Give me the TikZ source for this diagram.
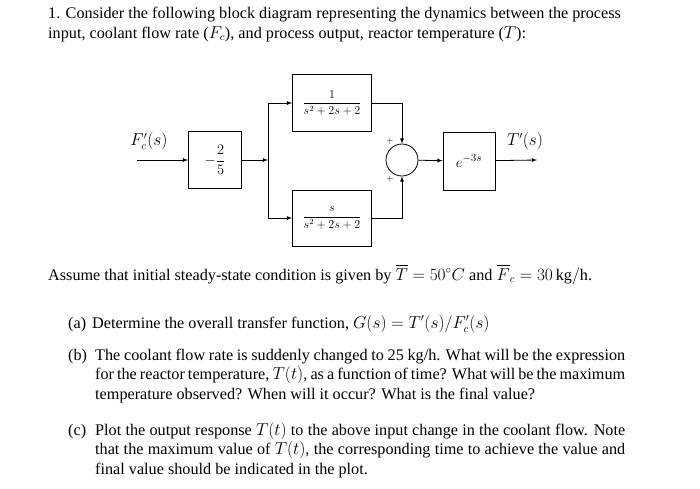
\documentclass[tikz,border=0pt]{standalone}
\usepackage{amsmath}
\usepackage{fontspec}
\setmainfont{Liberation Serif}
\usetikzlibrary{positioning}
\begin{document}
\begin{tikzpicture}[x=1pt,y=-1pt,>=latex,
    blk/.style={draw, thick, minimum width=79pt, font=\fontsize{12}{12}\selectfont},
    txt/.style={anchor=base west, inner sep=0pt, font=\fontsize{16.2}{19.5}\selectfont},
    par/.style={txt, text width=530pt, align=justify}]
\useasboundingbox (0,0) rectangle (700,488);

\node[txt] (l1) at (48,18) {1. Consider the following block diagram representing the dynamics between the process};
\node[txt] (l2) at (48,38) {input, coolant flow rate ($F_c$), and process output, reactor temperature ($T$):};

% block diagram
\node (gain)[blk, minimum width=53pt, minimum height=57pt, font=\fontsize{15}{15}\selectfont] at (215,160) {$-\dfrac{2}{5}$};
\node (top)[blk, minimum height=57pt] at (332,103) {$\dfrac{1}{s^2+2s+2}$};
\node (bot)[blk, minimum height=56pt] at (332,218) {$\dfrac{s}{s^2+2s+2}$};
\node (sum)[draw, thick, circle, minimum size=32pt, inner sep=0pt] at (402,160) {};
\node (delay)[blk, minimum width=52pt, minimum height=58pt, font=\fontsize{15}{15}\selectfont] at (469,161) {$e^{-3s}$};
\coordinate (in) at (137,160);
\coordinate (out) at (537,160);
\coordinate (br) at (268,160);
\node (fc) at (149,141) {\fontsize{16}{16}\selectfont $F_c'(s)$};
\node (tp) at (525,141) {\fontsize{16}{16}\selectfont $T'(s)$};
\node at (390,141) {\small $+$};
\node at (390,179) {\small $+$};

\draw[thick,->] (in) -- (gain);
\draw[thick,->] (gain) -- (br);
\draw[thick,->] (br) |- (top.west);
\draw[thick,->] (br) |- (bot.west);
\draw[thick,->] (top.east) -| (sum.north);
\draw[thick,->] (bot.east) -| (sum.south);
\draw[thick,->] (sum) -- (delay);
\draw[thick,->] (delay) -- (out);

\node[txt] (st) at (48,280) {Assume that initial steady-state condition is given by $\overline{T}=50^\circ C$ and $\overline{F}_c=30\,\mathrm{kg/h}$.};
\node[txt] (qa) at (68,328) {(a)\hspace{6pt}Determine the overall transfer function, $G(s)=T'(s)/F_c'(s)$};
\node[txt] (qb) at (68,360) {(b)};
\node[par] (pb) at (95,360) {The coolant flow rate is suddenly changed to 25 kg/h. What will be the expression for the reactor temperature, $T(t)$, as a function of time? What will be the maximum temperature observed? When will it occur? What is the final value?};
\node[txt] (qc) at (68,435) {(c)};
\node[par] (pc) at (95,435) {Plot the output response $T(t)$ to the above input change in the coolant flow. Note that the maximum value of $T(t)$, the corresponding time to achieve the value and final value should be indicated in the plot.};
\end{tikzpicture}
\end{document}
